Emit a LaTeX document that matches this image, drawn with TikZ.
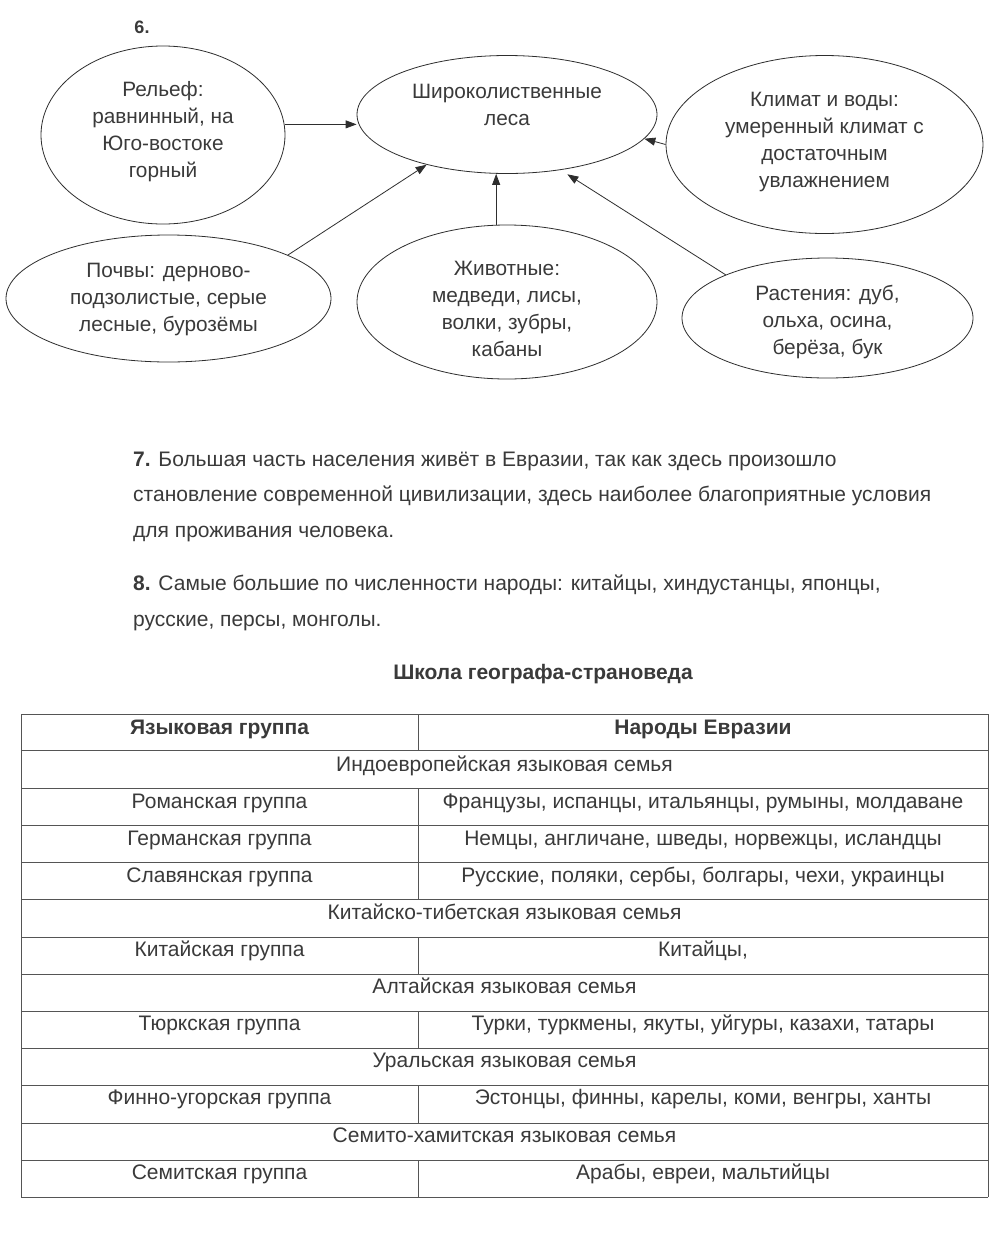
\documentclass[tikz,border=0pt]{standalone}
\usepackage{fontspec}
\setmainfont{Liberation Sans}
\usetikzlibrary{arrows.meta,shapes.geometric}
\definecolor{textc}{HTML}{3A3A3A}
\definecolor{linec}{HTML}{2E2E2E}
\definecolor{tlinec}{HTML}{555555}
\begin{document}
\begin{tikzpicture}[x=1pt,y=-1pt,
  ell/.style={draw=linec, line width=0.8pt, ellipse, inner sep=0pt},
  etext/.style={align=center, text=textc, inner sep=0pt, font=\fontsize{20.8}{27}\selectfont},
  arr/.style={draw=linec, line width=0.8pt, -{Triangle[length=11pt,width=8pt]}},
  ptext/.style={anchor=base west, inner sep=0pt, text=textc, font=\fontsize{21}{24}\selectfont},
  ttext/.style={anchor=base, inner sep=0pt, text=textc, font=\fontsize{21}{24}\selectfont},
  tline/.style={draw=tlinec, line width=1pt}
]
\fill[white] (0,0) rectangle (1000,1235);
\useasboundingbox (0,0) rectangle (1000,1235);

% ---- task 6 ----
\node[anchor=center, inner sep=0pt, text=textc, font=\bfseries\fontsize{18}{20}\selectfont] (n6) at (142,27) {6.};

\node[ell, minimum width=244pt, minimum height=178pt] (relief) at (163,135) {};
\node[etext] (relieft) at (163,131.5) {Рельеф:\\равнинный, на\\Юго-востоке\\горный};

\node[ell, minimum width=300pt, minimum height=118pt] (shir) at (507,114.5) {};
\node[etext] (shirt) at (507,104.5) {Широколиственные\\леса};

\node[ell, minimum width=317pt, minimum height=178pt] (clim) at (824.5,144.5) {};
\node[etext] (climt) at (824.5,141.5) {Климат и воды:\\умеренный климат с\\достаточным\\увлажнением};

\node[ell, minimum width=325pt, minimum height=127pt] (soil) at (168.5,298.5) {};
\node[etext] (soilt) at (168.5,299) {Почвы: дерново-\\подзолистые, серые\\лесные, бурозёмы};

\node[ell, minimum width=300pt, minimum height=154pt] (anim) at (507,302) {};
\node[etext] (animt) at (507,308.5) {Животные:\\медведи, лисы,\\волки, зубры,\\кабаны};

\node[ell, minimum width=291pt, minimum height=120pt] (plant) at (827.5,318) {};
\node[etext] (plantt) at (827.5,322) {Растения: дуб,\\ольха, осина,\\берёза, бук};

\draw[arr] (relief.5) -- (relief.5 -| shir.west);
\draw[arr] (soil.20.6) -- (shir.212);
\draw[arr] (anim.98) -- (anim.98 |- shir.south);
\draw[arr] (clim.west) -- (shir.-10);
\draw[arr, shorten >=8pt] (plant.157) -- (shir.-46);

% ---- tasks 7, 8 ----
\node[ptext] (p7a) at (133,466) {\textbf{7.} Большая часть населения живёт в Евразии, так как здесь произошло};
\node[ptext] (p7b) at (133,501) {становление современной цивилизации, здесь наиболее благоприятные условия};
\node[ptext] (p7c) at (133,537) {для проживания человека.};
\node[ptext] (p8a) at (133,590) {\textbf{8.} Самые большие по численности народы: китайцы, хиндустанцы, японцы,};
\node[ptext] (p8b) at (133,626) {русские, персы, монголы.};

\node[anchor=base, inner sep=0pt, text=textc, font=\bfseries\fontsize{21}{24}\selectfont] (title) at (543,679) {Школа географа-страноведа};

% ---- table ----
\foreach \yy in {714,750.5,788,825,862,899.5,937,974,1011,1048,1085.5,1123,1160,1197}
  \draw[tline] (21,\yy) -- (988,\yy);
\draw[tline] (21,714) -- (21,1197);
\draw[tline] (988,714) -- (988,1197);
\draw[tline] (418,714) -- (418,750.5);
\draw[tline] (418,788) -- (418,899.5);
\draw[tline] (418,937) -- (418,974);
\draw[tline] (418,1011) -- (418,1048);
\draw[tline] (418,1085.5) -- (418,1123);
\draw[tline] (418,1160) -- (418,1197);

\node[ttext, font=\bfseries\fontsize{21}{24}\selectfont] (h1) at (219.5,734) {Языковая группа};
\node[ttext, font=\bfseries\fontsize{21}{24}\selectfont] (h2) at (703,734) {Народы Евразии};

\node[ttext] (f1) at (504.5,771) {Индоевропейская языковая семья};
\node[ttext] (g1) at (219.5,808) {Романская группа};
\node[ttext] (r1) at (703,808) {Французы, испанцы, итальянцы, румыны, молдаване};
\node[ttext] (g2) at (219.5,845) {Германская группа};
\node[ttext] (r2) at (703,845) {Немцы, англичане, шведы, норвежцы, исландцы};
\node[ttext] (g3) at (219.5,882) {Славянская группа};
\node[ttext] (r3) at (703,882) {Русские, поляки, сербы, болгары, чехи, украинцы};
\node[ttext] (f2) at (504.5,919) {Китайско-тибетская языковая семья};
\node[ttext] (g4) at (219.5,956) {Китайская группа};
\node[ttext] (r4) at (703,956) {Китайцы,};
\node[ttext] (f3) at (504.5,993) {Алтайская языковая семья};
\node[ttext] (g5) at (219.5,1030) {Тюркская группа};
\node[ttext] (r5) at (703,1030) {Турки, туркмены, якуты, уйгуры, казахи, татары};
\node[ttext] (f4) at (504.5,1067) {Уральская языковая семья};
\node[ttext] (g6) at (219.5,1104) {Финно-угорская группа};
\node[ttext] (r6) at (703,1104) {Эстонцы, финны, карелы, коми, венгры, ханты};
\node[ttext] (f5) at (504.5,1142) {Семито-хамитская языковая семья};
\node[ttext] (g7) at (219.5,1179) {Семитская группа};
\node[ttext] (r7) at (703,1179) {Арабы, евреи, мальтийцы};
\end{tikzpicture}
\end{document}
